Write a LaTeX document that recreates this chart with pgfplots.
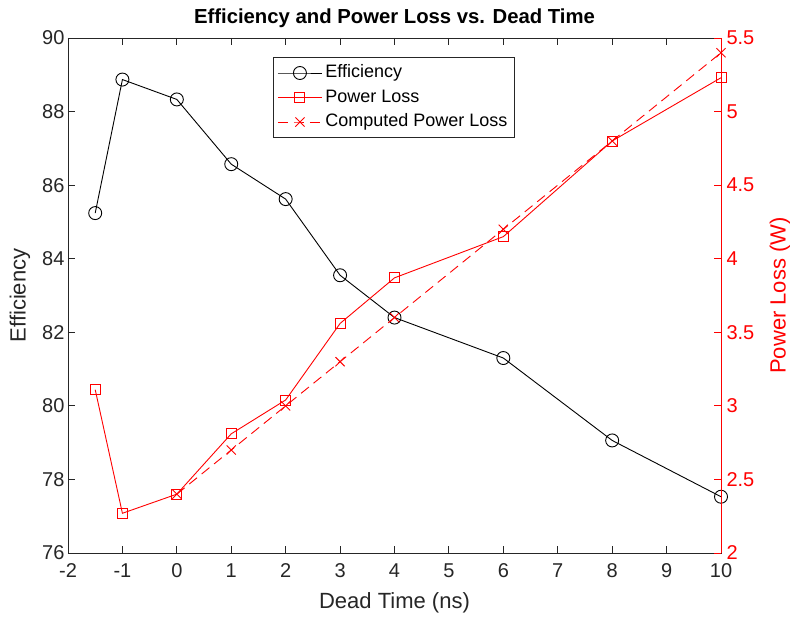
\documentclass[border=0pt]{standalone}
\usepackage{fontspec}
\setmainfont{Liberation Sans}
\usepackage{pgfplots}
\pgfplotsset{compat=1.18}
\definecolor{mred}{RGB}{255,0,0}
\definecolor{mgray}{RGB}{38,38,38}
\pgfplotsset{
  common/.style={
    at={(0pt,0pt)}, anchor=south west,
    scale only axis, width=653pt, height=515pt,
    xmin=-2, xmax=10,
    tick align=inside, major tick length=7pt,
    /pgf/number format/assume math mode=true,
    tick label style={font=\fontsize{20}{24}\selectfont},
    every axis plot/.append style={line width=0.9pt},
  }
}
\begin{document}
\begin{tikzpicture}
\useasboundingbox (-68pt,-63pt) rectangle (722pt,553pt);
\begin{axis}[common,
  ymin=76, ymax=90,
  xtick={-2,-1,...,10}, ytick={76,78,...,90},
  ytick pos=left, xtick pos=both,
  axis line style={mgray, line width=0.9pt},
  every tick/.style={mgray, line width=0.9pt},
  xlabel={Dead Time (ns)}, ylabel={Efficiency},
  every axis x label/.style={at={(axis description cs:0.5,-0.097)}, anchor=center, mgray, font=\fontsize{22}{26}\selectfont},
  every axis y label/.style={at={(axis description cs:-0.0735,0.5)}, rotate=90, anchor=center, mgray, font=\fontsize{22}{26}\selectfont},
  title={\bfseries Efficiency and Power Loss vs. Dead Time},
  every axis title/.style={at={(axis description cs:0.5,1.039)}, anchor=center, font=\fontsize{20.3}{24}\selectfont},
  xticklabel style={yshift=-7pt, mgray},
  yticklabel style={xshift=0pt, mgray},
]
\addplot[black, mark=o, mark size=6.5pt, mark options={solid}] coordinates {
(-1.5,85.24) (-1,88.87) (0,88.33) (1,86.57) (2,85.62) (3,83.55) (4,82.40) (6,81.30) (8,79.06) (10,77.53)};
\end{axis}
\begin{axis}[common,
  ymin=2, ymax=5.5,
  ytick={2,2.5,...,5.5},
  axis y line*=right, axis x line=none,
  y axis line style={mred, line width=0.9pt},
  every tick/.style={mred, line width=0.9pt},
  yticklabel style={mred, xshift=2pt},
  yticklabel={\pgfmathprintnumber[fixed]{\tick}},
  ylabel={Power Loss (W)},
  every axis y label/.style={at={(axis description cs:1.0904,0.5)}, rotate=90, anchor=center, mred, font=\fontsize{22}{26}\selectfont},
  legend style={at={(axis description cs:0.314,0.963)}, anchor=north west, draw=mgray, line width=0.9pt,
    font=\fontsize{18}{22}\selectfont, inner sep=4pt, row sep=1.5pt,
    nodes={inner sep=3pt, text height=13pt, text depth=4pt}},
  legend cell align=left,
  legend image code/.code={\draw[mark repeat=2, mark phase=2] plot coordinates {(0pt,0pt) (22pt,0pt) (44pt,0pt)};},
]
\addlegendimage{black, mark=o, mark size=6.5pt, line width=0.9pt}
\addlegendentry{Efficiency}
\addplot[mred, mark=square, mark size=5pt, mark options={solid}] coordinates {
(-1.5,3.11) (-1,2.27) (0,2.40) (1,2.81) (2,3.04) (3,3.56) (4,3.87) (6,4.15) (8,4.80) (10,5.23)};
\addlegendentry{Power Loss}
\addplot[mred, dash pattern=on 10pt off 6pt, mark=x, mark size=6.5pt, mark options={solid}] coordinates {
(0,2.4) (1,2.7) (2,3.0) (3,3.3) (4,3.6) (6,4.2) (8,4.8) (10,5.4)};
\addlegendentry{Computed Power Loss}
\end{axis}
\end{tikzpicture}
\end{document}
